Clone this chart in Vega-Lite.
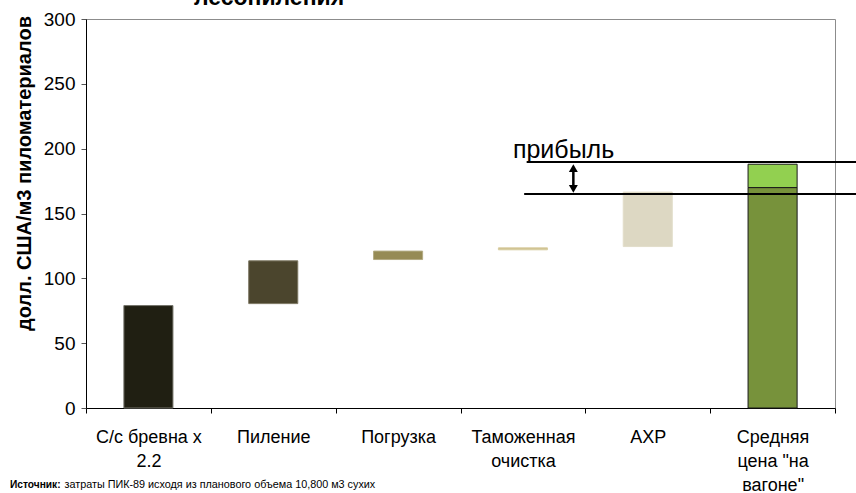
{
  "$schema": "https://vega.github.io/schema/vega-lite/v6.json",
  "width": 749,
  "height": 389,
  "autosize": {"type": "none"},
  "padding": {"left": 86, "top": 19, "right": 21, "bottom": 85},
  "background": "white",
  "config": {
    "font": "Liberation Sans",
    "view": {"stroke": "#8c8c8c", "strokeWidth": 1},
    "axis": {"domainColor": "#000", "tickColor": "#000", "labelColor": "#000", "titleColor": "#000", "grid": false, "labelFont": "Liberation Sans", "titleFont": "Liberation Sans"}
  },
  "datasets": {
    "bars": [
      {"cat": "С/с бревна х 2.2", "seg": "s1", "lo": 0, "hi": 79},
      {"cat": "Пиление", "seg": "s2", "lo": 80.5, "hi": 113.5},
      {"cat": "Погрузка", "seg": "s3", "lo": 114.5, "hi": 121},
      {"cat": "Таможенная очистка", "seg": "s4", "lo": 122, "hi": 123.5},
      {"cat": "АХР", "seg": "s5", "lo": 124.5, "hi": 166.5},
      {"cat": "Средняя цена \"на вагоне\"", "seg": "s6", "lo": 0, "hi": 170},
      {"cat": "Средняя цена \"на вагоне\"", "seg": "s7", "lo": 170, "hi": 188}
    ],
    "lines": [
      {"x1": 3.53, "x2": 6.5, "y": 189.7},
      {"x1": 3.51, "x2": 6.5, "y": 165}
    ],
    "shaft": [{"x": 3.904, "y1": 169, "y2": 184.7}],
    "heads": [
      {"x": 3.904, "y": 185.0, "dir": "up"},
      {"x": 3.904, "y": 168.9, "dir": "down"}
    ],
    "profit": [{"x": 3.42, "y": 192.8, "t": "прибыль"}],
    "title": [{"x": 1.466, "y": 310.7, "t": "лесопиления"}],
    "srcBold": [{"x": -0.609, "y": -61.7, "t": "Источник:"}],
    "srcText": [{"x": -0.172, "y": -61.7, "t": "затраты ПИК-89 исходя из планового объема 10,800 м3 сухих"}]
  },
  "layer": [
    {
      "data": {"name": "bars"},
      "mark": {"type": "bar", "width": {"band": 0.393}, "strokeWidth": 1},
      "encoding": {
        "x": {
          "field": "cat", "type": "nominal", "sort": null,
          "scale": {"paddingInner": 0, "paddingOuter": 0},
          "axis": {
            "title": null, "labelAngle": 0, "tickBand": "extent", "tickSize": 5,
            "labelFontSize": 18, "labelPadding": 15, "labelLineHeight": 24, "labelBaseline": "top",
            "labelLimit": 0, "labelOverlap": false,
            "labelExpr": "datum.value == 'С/с бревна х 2.2' ? ['С/с бревна х', '2.2'] : datum.value == 'Таможенная очистка' ? ['Таможенная', 'очистка'] : datum.value == 'Средняя цена \"на вагоне\"' ? ['Средняя', 'цена \"на', 'вагоне\"'] : datum.value"
          }
        },
        "y": {
          "field": "lo", "type": "quantitative",
          "scale": {"domain": [0, 300], "nice": false},
          "axis": {
            "title": "долл. США/м3 пиломатериалов", "values": [0, 50, 100, 150, 200, 250, 300],
            "tickSize": 5, "tickColor": "#555", "labelFontSize": 19, "labelPadding": 6,
            "titleFontSize": 20, "titleFontWeight": "bold", "titleX": -52, "titleY": 154, "titleAngle": -90
          }
        },
        "y2": {"field": "hi"},
        "color": {
          "field": "seg", "type": "nominal", "legend": null,
          "scale": {"domain": ["s1", "s2", "s3", "s4", "s5", "s6", "s7"], "range": ["#201f12", "#4b452d", "#968b55", "#cdbf8c", "#ddd8c3", "#77923b", "#92d050"]}
        },
        "stroke": {
          "field": "seg", "type": "nominal", "legend": null,
          "scale": {"domain": ["s1", "s2", "s3", "s4", "s5", "s6", "s7"], "range": ["#74746a", "#7c7762", "#b3ab84", "#d8cda2", "#e2ddca", "#1a1a1a", "#1a1a1a"]}
        }
      }
    },
    {
      "layer": [
        {
          "data": {"name": "lines"},
          "mark": {"type": "rule", "color": "#000", "strokeWidth": 2},
          "encoding": {
            "x": {"field": "x1", "type": "quantitative", "scale": {"domain": [0, 6], "nice": false, "zero": false}, "axis": null},
            "x2": {"field": "x2"},
            "y": {"field": "y", "type": "quantitative"}
          }
        },
        {
          "data": {"name": "shaft"},
          "mark": {"type": "rule", "color": "#000", "strokeWidth": 2.5},
          "encoding": {
            "x": {"field": "x", "type": "quantitative"},
            "y": {"field": "y1", "type": "quantitative"},
            "y2": {"field": "y2"}
          }
        },
        {
          "data": {"name": "heads"},
          "mark": {"type": "point", "filled": true, "color": "#000", "size": 80, "opacity": 1},
          "encoding": {
            "x": {"field": "x", "type": "quantitative"},
            "y": {"field": "y", "type": "quantitative"},
            "shape": {"field": "dir", "type": "nominal", "legend": null, "scale": {"domain": ["up", "down"], "range": ["triangle-up", "triangle-down"]}}
          }
        },
        {
          "data": {"name": "profit"},
          "mark": {"type": "text", "align": "left", "baseline": "alphabetic", "fontSize": 25, "color": "#000", "font": "Liberation Sans"},
          "encoding": {
            "x": {"field": "x", "type": "quantitative"},
            "y": {"field": "y", "type": "quantitative"},
            "text": {"field": "t"}
          }
        },
        {
          "data": {"name": "title"},
          "mark": {"type": "text", "align": "center", "baseline": "alphabetic", "fontSize": 23, "fontWeight": "bold", "color": "#000", "font": "Liberation Sans"},
          "encoding": {
            "x": {"field": "x", "type": "quantitative"},
            "y": {"field": "y", "type": "quantitative"},
            "text": {"field": "t"}
          }
        },
        {
          "data": {"name": "srcBold"},
          "mark": {"type": "text", "align": "left", "baseline": "alphabetic", "fontSize": 10.2, "fontWeight": "bold", "color": "#000", "font": "Liberation Sans"},
          "encoding": {
            "x": {"field": "x", "type": "quantitative"},
            "y": {"field": "y", "type": "quantitative"},
            "text": {"field": "t"}
          }
        },
        {
          "data": {"name": "srcText"},
          "mark": {"type": "text", "align": "left", "baseline": "alphabetic", "fontSize": 10.8, "color": "#000", "font": "Liberation Sans"},
          "encoding": {
            "x": {"field": "x", "type": "quantitative"},
            "y": {"field": "y", "type": "quantitative"},
            "text": {"field": "t"}
          }
        }
      ]
    }
  ],
  "resolve": {"scale": {"x": "independent"}}
}
